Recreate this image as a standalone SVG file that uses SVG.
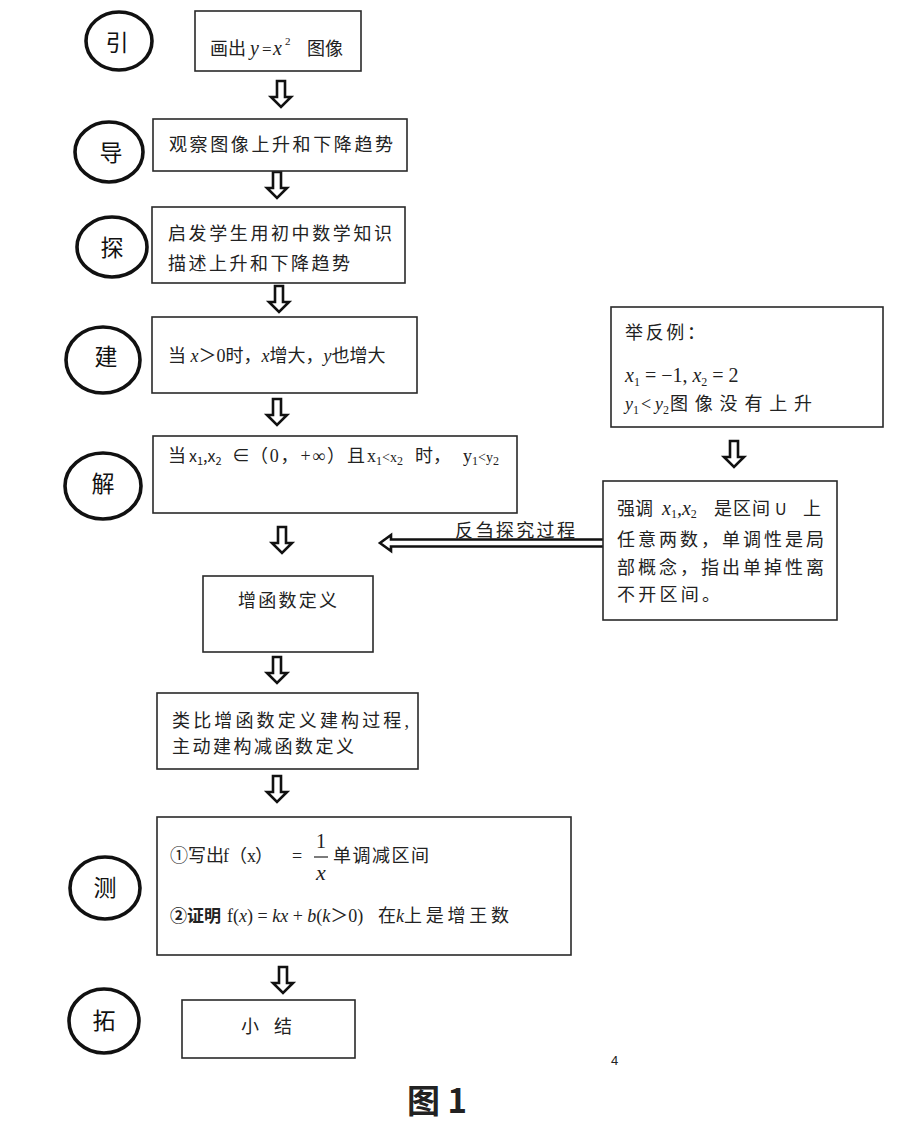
<svg xmlns="http://www.w3.org/2000/svg" width="901" height="1133" viewBox="0 0 901 1133">
<style>
.bx{fill:#fff;stroke:#2a2a2a;stroke-width:1.6}
.cc{fill:#fff;stroke:#111;stroke-width:3.6}
.lbl{font-family:"Noto Sans CJK SC",sans-serif;font-size:23px;fill:#111;text-anchor:middle}
.cn{font-family:"Liberation Serif","Noto Sans CJK SC",serif;font-size:18px;fill:#222}
.mi{font-family:"Liberation Serif",serif;font-style:italic}
.mr{font-family:"Liberation Serif",serif;font-style:normal}
.sf{font-family:"Noto Sans CJK SC",sans-serif}
.ar{fill:#fff;stroke:#111;stroke-width:2.6;stroke-linejoin:miter}
</style>
<defs>
<path id="dn" d="M-4,-26 L4,-26 L4,-10 L10,-10 L0,0 L-10,-10 L-4,-10 Z"/>
</defs>
<rect width="901" height="1133" fill="#fff"/>

<g id="connectors">
<use href="#dn" class="ar" transform="translate(281,107)"/>
<use href="#dn" class="ar" transform="translate(277,198)"/>
<use href="#dn" class="ar" transform="translate(279,312)"/>
<use href="#dn" class="ar" transform="translate(277,425)"/>
<use href="#dn" class="ar" transform="translate(282,553)"/>
<use href="#dn" class="ar" transform="translate(277,683)"/>
<use href="#dn" class="ar" transform="translate(277,802)"/>
<use href="#dn" class="ar" transform="translate(283,993)"/>
<use href="#dn" class="ar" transform="translate(734,467)"/>
<path class="ar" d="M607,539.5 L391,539.5 L391,535 L380,543 L391,551 L391,546.5 L607,546.5 Z"/>
<text class="cn" x="455" y="537" font-size="19" textLength="120" lengthAdjust="spacing">反刍探究过程</text>
</g>

<g id="c-yin"><ellipse class="cc" cx="119" cy="41" rx="33" ry="29"/><text class="lbl" x="117" y="51">引</text></g>
<g id="c-dao"><ellipse class="cc" cx="109" cy="152" rx="34" ry="30"/><text class="lbl" x="111" y="161">导</text></g>
<g id="c-tan"><ellipse class="cc" cx="112" cy="247" rx="35" ry="30"/><text class="lbl" x="112" y="256">探</text></g>
<g id="c-jian"><ellipse class="cc" cx="103" cy="360" rx="37" ry="33"/><text class="lbl" x="106" y="365">建</text></g>
<g id="c-jie"><ellipse class="cc" cx="103" cy="486" rx="38" ry="33"/><text class="lbl" x="103" y="492">解</text></g>
<g id="c-ce"><ellipse class="cc" cx="105" cy="888" rx="35" ry="31"/><text class="lbl" x="105" y="896">测</text></g>
<g id="c-tuo"><ellipse class="cc" cx="104" cy="1021" rx="35" ry="32"/><text class="lbl" x="104" y="1029">拓</text></g>

<g id="n1">
<rect class="bx" x="195" y="11" width="166" height="60"/>
<text class="cn" y="55" font-size="19"><tspan x="210">画出</tspan><tspan class="mi" x="250" font-size="20">y</tspan><tspan class="mr" x="262" font-size="17">=</tspan><tspan class="mi" x="273" font-size="20">x</tspan><tspan class="mr" x="285" y="45" font-size="11">2</tspan><tspan x="307" y="55">图像</tspan></text>
</g>

<g id="n2">
<rect class="bx" x="153" y="119" width="254" height="52"/>
<text class="cn" x="169" y="151" font-size="19" textLength="224" lengthAdjust="spacing">观察图像上升和下降趋势</text>
</g>

<g id="n3">
<rect class="bx" x="152" y="207" width="253" height="76"/>
<text class="cn" x="168" y="240" font-size="19" textLength="224" lengthAdjust="spacing">启发学生用初中数学知识</text>
<text class="cn" x="168" y="270" font-size="19" textLength="182" lengthAdjust="spacing">描述上升和下降趋势</text>
</g>

<g id="n4">
<rect class="bx" x="152" y="317" width="265" height="76"/>
<text class="cn" x="168" y="362" font-size="19">当 <tspan class="mi">x</tspan>＞0时，<tspan class="mi">x</tspan>增大，<tspan class="mi">y</tspan>也增大</text>
</g>

<g id="n5">
<rect class="bx" x="153" y="436" width="364" height="77"/>
<text class="cn" y="462" font-size="17"><tspan x="168">当</tspan><tspan class="sf" x="189" font-size="16">x</tspan><tspan class="sf" font-size="11" dy="3">1</tspan><tspan class="sf" font-size="16" dy="-3">,x</tspan><tspan class="sf" font-size="11" dy="3">2</tspan><tspan x="232" dy="-3">∈</tspan><tspan x="250" textLength="95" lengthAdjust="spacing">（0，+∞）</tspan><tspan x="347">且</tspan><tspan class="mr" x="367" font-size="18">x</tspan><tspan class="mr" font-size="12" dy="3">1</tspan><tspan class="mr" font-size="14" dy="-3">&lt;x</tspan><tspan class="mr" font-size="12" dy="3">2</tspan><tspan x="415" dy="-3">时，</tspan><tspan class="mr" x="463" font-size="18">y</tspan><tspan class="mr" font-size="12" dy="3">1</tspan><tspan class="mr" font-size="14" dy="-3">&lt;y</tspan><tspan class="mr" font-size="12" dy="3">2</tspan></text>
</g>

<g id="n6">
<rect class="bx" x="203" y="576" width="170" height="76"/>
<text class="cn" x="238" y="607" textLength="99" lengthAdjust="spacing">增函数定义</text>
</g>

<g id="n7">
<rect class="bx" x="157" y="693" width="261" height="76"/>
<text class="cn" x="172" y="727" font-size="19" textLength="237" lengthAdjust="spacing">类比增函数定义建构过程,</text>
<text class="cn" x="172" y="753" font-size="19" textLength="182" lengthAdjust="spacing">主动建构减函数定义</text>
</g>

<g id="n8">
<rect class="bx" x="157" y="817" width="414" height="138"/>
<text class="cn" y="862" font-size="17"><tspan x="170">①写出</tspan><tspan class="mr" x="223">f</tspan><tspan x="229">（</tspan><tspan class="mr" x="247">x</tspan><tspan x="255">）</tspan><tspan class="mr" x="292">=</tspan></text>
<text class="mr" x="321" y="848" font-size="20" text-anchor="middle" fill="#222">1</text>
<line x1="314" y1="857" x2="328" y2="857" stroke="#222" stroke-width="1.2"/>
<text class="mi" x="321" y="880" font-size="22" text-anchor="middle" fill="#222">x</text>
<text class="cn" x="333" y="862" font-size="17" textLength="96" lengthAdjust="spacing">单调减区间</text>
<text class="cn" y="922" font-size="20"><tspan class="sf" x="170" font-weight="bold" font-size="17">②证明</tspan><tspan class="mr" x="227">f(</tspan><tspan class="mi">x</tspan><tspan class="mr">) = </tspan><tspan class="mi">kx</tspan><tspan class="mr"> + </tspan><tspan class="mi">b</tspan><tspan class="mr">(</tspan><tspan class="mi">k</tspan><tspan font-size="18">＞</tspan><tspan class="mr">0)</tspan><tspan x="378" font-size="18">在</tspan><tspan class="mi">k</tspan><tspan font-size="18" textLength="105" lengthAdjust="spacing">上是增王数</tspan></text>
</g>

<g id="n9">
<rect class="bx" x="182" y="1000" width="173" height="58"/>
<text class="cn" x="241" y="1033" font-size="18">小</text>
<text class="cn" x="274" y="1033" font-size="18">结</text>
</g>

<g id="n10">
<rect class="bx" x="611" y="307" width="272" height="120"/>
<text class="cn" x="625" y="339" font-size="18" textLength="80" lengthAdjust="spacing">举反例：</text>
<text class="mi" y="382" font-size="20" fill="#222"><tspan x="625">x</tspan><tspan class="mr" font-size="12" dy="4">1</tspan><tspan class="mr" dy="-4"> = −1, </tspan><tspan>x</tspan><tspan class="mr" font-size="12" dy="4">2</tspan><tspan class="mr" dy="-4"> = 2</tspan></text>
<text class="cn" y="410" font-size="20"><tspan class="mi" x="625">y</tspan><tspan class="mr" font-size="12" dy="4">1</tspan><tspan class="mr" x="641" dy="-4">&lt;</tspan><tspan class="mi" x="655">y</tspan><tspan class="mr" font-size="12" dy="4">2</tspan><tspan x="670" dy="-4" textLength="142" lengthAdjust="spacing">图像没有上升</tspan></text>
</g>

<g id="n11">
<rect class="bx" x="603" y="481" width="234" height="139"/>
<text class="cn" y="515" font-size="17"><tspan x="617" textLength="36" lengthAdjust="spacing">强调</tspan><tspan class="mi" x="662" font-size="20">x</tspan><tspan class="mr" font-size="12" dy="3">1</tspan><tspan class="mi" font-size="20" dy="-3">,x</tspan><tspan class="mr" font-size="12" dy="3">2</tspan><tspan x="714" dy="-3" textLength="56" lengthAdjust="spacing">是区间</tspan><tspan class="sf" x="775" font-size="16">U</tspan><tspan x="803">上</tspan></text>
<text class="cn" x="617" y="546" font-size="17" textLength="207" lengthAdjust="spacing">任意两数，单调性是局</text>
<text class="cn" x="617" y="574" font-size="17" textLength="207" lengthAdjust="spacing">部概念，指出单掉性离</text>
<text class="cn" x="617" y="601" font-size="17" textLength="103" lengthAdjust="spacing">不开区间。</text>
</g>

<text x="611" y="1065" font-family="Liberation Sans, sans-serif" font-size="13" fill="#222">4</text>
<text x="437" y="1113" font-family="Noto Sans CJK SC, sans-serif" font-size="33" font-weight="bold" text-anchor="middle" fill="#222">图 1</text>
</svg>
